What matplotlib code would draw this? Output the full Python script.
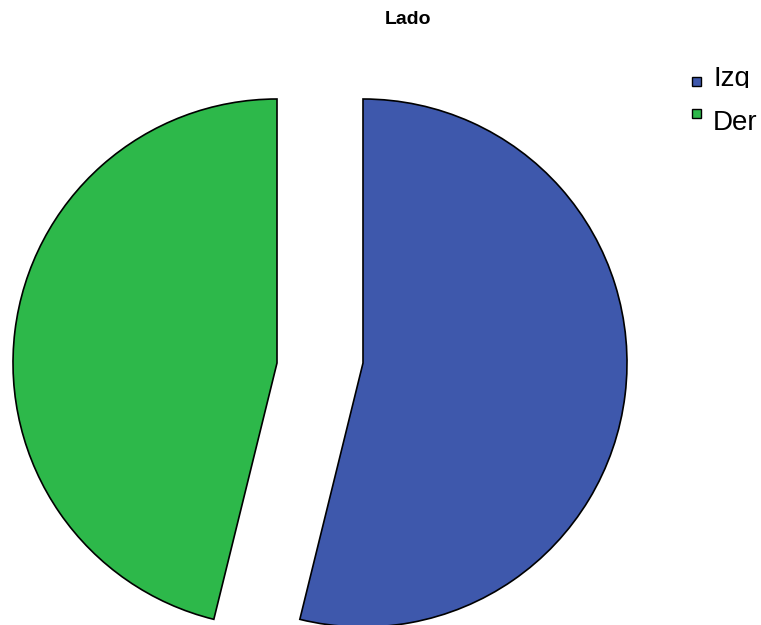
import matplotlib
matplotlib.use("Agg")
import matplotlib.pyplot as plt
from matplotlib.patches import Rectangle

# Counts per side
categories = ["Izq", "Der"]
counts = [7, 6]
colors = ["#3E58AC", "#2DB84A"]

W, H = 761, 625
fig = plt.figure(figsize=(W / 100, H / 100), dpi=100)
ax = fig.add_axes([0, 0, 1, 1])

cx, cy, r = 320, 262, 264
wedges, _ = ax.pie(counts, colors=colors, startangle=90, counterclock=False,
                   radius=r, center=(cx, cy),
                   wedgeprops=dict(edgecolor="black", linewidth=1.2),
                   frame=True)
ax.set_xlim(0, W)
ax.set_ylim(0, H)
ax.set_aspect("equal")
ax.axis("off")

# pull the two slices apart sideways
shifts = [43, -43]
for w, dx in zip(wedges, shifts):
    w.set_center((cx + dx, cy))

ax.text(408, H - 20, "Lado", ha="center", va="center",
        fontsize=14, fontweight="bold", family="Liberation Sans")

# legend
mark_y = [H - 81, H - 113]
text_base = [H - 86, H - 130]
for lab, col, my, tb in zip(categories, colors, mark_y, text_base):
    ax.add_patch(Rectangle((692, my - 4.5), 9, 9, facecolor=col,
                           edgecolor="black", linewidth=1.0))
    t = ax.text(713, tb, lab, ha="left", va="baseline", fontsize=20,
                family="Liberation Sans")
    if lab == "Izq":
        # the first entry's row is cut off just under its baseline
        clip = Rectangle((700, H - 87.5), 60, 40, transform=ax.transData)
        t.set_clip_on(True)
        t.set_clip_path(clip)

fig.savefig("out.png", dpi=100)
